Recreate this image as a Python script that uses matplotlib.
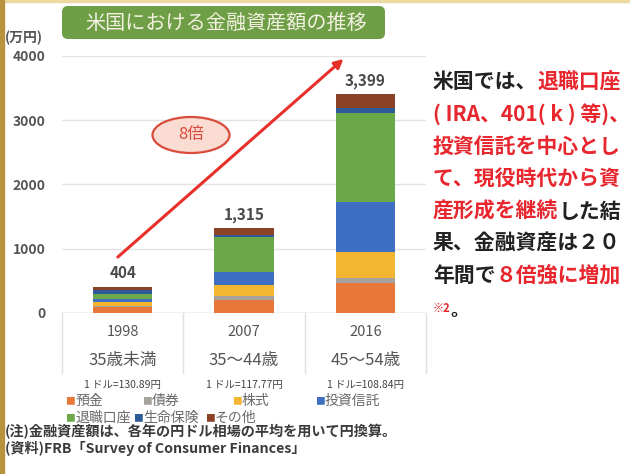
#!/usr/bin/env python3
"""
US household financial assets by age group (stacked bars) with a side note.
"""

import matplotlib.pyplot as plt
import matplotlib as mpl
import numpy as np
from matplotlib.patches import FancyBboxPatch, Ellipse, Rectangle
from matplotlib.text import Annotation

mpl.rcParams['font.family'] = ['Noto Sans CJK JP', 'DejaVu Sans']

# ---------- data (万円) ----------
years = ['1998', '2007', '2016']
ages = ['35歳未満', '35〜44歳', '45〜54歳']
rates = ['1 ドル=130.89円', '1 ドル=117.77円', '1 ドル=108.84円']
totals = [404, 1315, 3399]

categories = ['預金', '債券', '株式', '投資信託', '退職口座', '生命保険', 'その他']
deposits = [93, 207, 466]
bonds = [23, 52, 77]
stocks = [56, 181, 404]
funds = [46, 196, 776]
retirement = [84, 539, 1392]
insurance = [56, 41, 78]
other = [46, 99, 206]
series = [deposits, bonds, stocks, funds, retirement, insurance, other]
colors = ['#E8773A', '#A6A29C', '#F4B531', '#3F6FC3', '#6BA84A', '#2F5A98', '#8C4227']

yticks = [0, 1000, 2000, 3000, 4000]

# arrow from the first bar to above the last one
arrow_start = (-0.04, 870)
arrow_end = (1.82, 3950)

W, H = 630, 474
red = '#E8262E'
blk = '#222222'


def fx(x):
    return x / W


def fy(y):
    return 1 - y / H


fig = plt.figure(figsize=(W / 100, H / 100), dpi=100)
fig.patch.set_facecolor('white')

# page decoration: gold strips
fig.patches.append(Rectangle((0, fy(2)), 1, 2 / H, transform=fig.transFigure,
                             color='#EFD9A2', zorder=0))
fig.patches.append(Rectangle((0, 0), fx(4), 1, transform=fig.transFigure,
                             color='#B8923F', zorder=0))

# ---------- title box ----------
box = FancyBboxPatch((0.62, 4.35), 3.23, 0.33, boxstyle='round,pad=0,rounding_size=0.06',
                     transform=fig.dpi_scale_trans, facecolor='#6E9E45', edgecolor='none')
fig.patches.append(box)
fig.text(fx(226), fy(23), '米国における金融資産額の推移', color='#F3F1E2', fontsize=14.5,
         ha='center', va='center')

# ---------- chart ----------
ax = fig.add_axes([fx(62), fy(313), fx(426) - fx(62), fy(55.7) - fy(313)])
x = np.arange(len(years))
bottom = np.zeros(len(years))
for vals, col, name in zip(series, colors, categories):
    ax.bar(x, vals, 0.49, bottom=bottom, color=col, label=name, zorder=2)
    bottom += np.array(vals)

for xi, t in zip(x, totals):
    ax.annotate(f'{t:,}', (xi, t), xytext=(0, 4), textcoords='offset points',
                ha='center', va='bottom', fontsize=11, color='#4A4A4A', fontweight='bold')

ax.set_xlim(-0.5, 2.5)
ax.set_ylim(0, 4000)
ax.set_yticks(yticks)
ax.set_yticklabels([str(v) for v in yticks], fontsize=10, color='#555555', fontweight='bold')
ax.tick_params(axis='y', length=0, pad=12)
ax.set_xticks(x)
ax.set_xticklabels(years, fontsize=10.5, color='#555555')
ax.tick_params(axis='x', length=0, pad=9)
for s in ax.spines.values():
    s.set_visible(False)
ax.yaxis.grid(True, color='#E3E3E3', linewidth=1.0, zorder=0)
ax.axhline(0, color='#CFCFCF', linewidth=1.0, zorder=1)

# separators below the axis
blend = mpl.transforms.blended_transform_factory(ax.transData, ax.transAxes)
for b in np.arange(-0.5, len(years), 1.0):
    ax.plot([b, b], [0, -0.235], transform=blend, color='#E0E0E0', lw=1.0, clip_on=False)

for xi, age, rate in zip(x, ages, rates):
    ax.text(xi, -0.183, age, transform=blend, ha='center', va='center', fontsize=12,
            color='#555555')
    ax.text(xi, -0.28, rate, transform=blend, ha='center', va='center', fontsize=7.5,
            color='#444444')

# growth arrow and badge
ax.annotate('', xy=arrow_end, xytext=arrow_start,
            arrowprops=dict(arrowstyle='-|>', color='#E8302A', lw=2.2, mutation_scale=13,
                            shrinkA=0, shrinkB=0), zorder=5)
fig.patches.append(Ellipse((1.91, 3.39), 0.77, 0.36, transform=fig.dpi_scale_trans,
                           facecolor='#FADCD2', edgecolor='#D94B3B', linewidth=1.6))
fig.text(fx(191), fy(135), '8倍', color='#D94B3B', fontsize=12, ha='center', va='center')

fig.text(fx(5), fy(38), '(万円)', fontsize=10, color='#555555', va='center', fontweight='bold')

# ---------- legend ----------
leg_pos = [(65, 401), (142, 401), (232, 401), (315, 401),
           (65, 418), (133, 418), (205, 418)]
for (lx, ly), name, col in zip(leg_pos, categories, colors):
    fig.text(fx(lx), fy(ly), '■', color=col, fontsize=7, va='center')
    fig.text(fx(lx + 10), fy(ly), name, color='#6A6A6A', fontsize=10, va='center')

fig.text(fx(5), fy(432), '(注)金融資産額は、各年の円ドル相場の平均を用いて円換算。',
         fontsize=10.2, color='#3A3A3A', va='center', fontweight='bold')
fig.text(fx(5), fy(448), '(資料)FRB「Survey of Consumer Finances」',
         fontsize=10.2, color='#3A3A3A', va='center', fontweight='bold')

# ---------- side note ----------
lines = [
    (82, [('米国では、', blk), ('退職口座', red)]),
    (114, [('( IRA、401( k ) 等)、', red)]),
    (146, [('投資信託を中心とし', red)]),
    (178, [('て、現役時代から資', red)]),
    (211, [('産形成を継続', red), ('した結', blk)]),
    (243, [('果、金融資産は２０', blk)]),
    (275, [('年間で', blk), ('８倍強に増加', red)]),
]
for ly, segs in lines:
    prev = None
    for txt, col in segs:
        if prev is None:
            prev = fig.text(fx(433), fy(ly), txt, color=col, fontsize=15,
                            fontweight='bold', va='center')
        else:
            prev = fig.add_artist(Annotation(
                txt, xy=(1, 0.5), xycoords=prev, va='center', ha='left',
                color=col, fontsize=15, fontweight='bold'))

note = fig.text(fx(433), fy(308), '※2', color=red, fontsize=8, fontweight='bold', va='center')
fig.add_artist(Annotation('。', xy=(1, 0.3), xycoords=note, va='center',
                          ha='left', color=blk, fontsize=13, fontweight='bold'))

fig.savefig('out.png', dpi=100, facecolor='white')
plt.close(fig)
